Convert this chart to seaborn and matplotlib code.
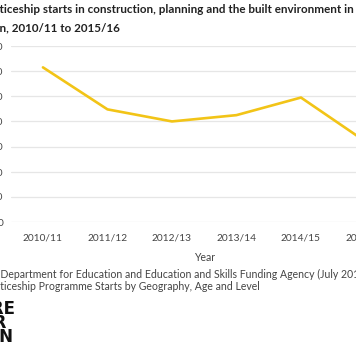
import matplotlib
matplotlib.use("Agg")
import matplotlib.pyplot as plt
import seaborn as sns
import pandas as pd
from matplotlib import font_manager

# apprenticeship starts
years = ["2010/11", "2011/12", "2012/13", "2013/14", "2014/15", "2015/16"]
starts = [3075, 2240, 2000, 2125, 2475, 1600]
y_ticks = [0, 500, 1000, 1500, 2000, 2500, 3000, 3500]

TITLE = ["Apprenticeship starts in construction, planning and the built environment in",
         "London, 2010/11 to 2015/16"]
SOURCE = ["Source: Department for Education and Education and Skills Funding Agency (July 2016)",
          "Apprenticeship Programme Starts by Geography, Age and Level"]

W, H = 356, 364
LINE_COLOR = "#f2c417"
TEXT = "#444444"

sns.set_theme(style="white")
plt.rcParams["font.family"] = ["Lato", "DejaVu Sans"]

df = pd.DataFrame({"year": years, "starts": starts})

fig = plt.figure(figsize=(W / 100, H / 100), dpi=100)
# axes run past both canvas edges, as in the cropped original
ax = fig.add_axes([10.7 / W, (H - 222) / H, 387 / W, 176 / H])
sns.lineplot(data=df, x="year", y="starts", color=LINE_COLOR, linewidth=1.9,
             sort=False, ax=ax)

ax.set_xlim(-0.5, len(years) - 0.5)
ax.set_ylim(0, 3500)
ax.set_yticks(y_ticks)
ax.set_yticklabels([f"{v:,}" for v in y_ticks])
ax.grid(axis="y", color="#e6e6e6", linewidth=0.9)
ax.grid(axis="x", visible=False)
for s in ax.spines.values():
    s.set_visible(False)
ax.tick_params(axis="y", length=0, pad=5.5, labelsize=7.3, labelcolor=TEXT)
ax.tick_params(axis="x", which="major", length=0, pad=8, labelsize=7.3, labelcolor=TEXT)
ax.set_xticks([i - 0.5 for i in range(len(years) + 1)], minor=True)
ax.tick_params(axis="x", which="minor", length=3, color="#e0e0e0", width=0.8)
ax.set_xlabel("Year", fontsize=7.6, color=TEXT, labelpad=7)
ax.set_ylabel("")

renderer = fig.canvas.get_renderer()


def text_width(s, **kw):
    t = fig.text(0, 0, s, **kw)
    w = t.get_window_extent(renderer).width
    t.remove()
    return w


# the original is cropped on the left, so each line starts partly off-canvas
title_kw = dict(fontsize=8.4, fontweight="bold", color="#222222")
fig.text(-text_width("Appren", **title_kw) / W, 1 - 13 / H, TITLE[0],
         va="baseline", **title_kw)
fig.text((-text_width("Londo", **title_kw) - 0.5) / W, 1 - 31 / H, TITLE[1],
         va="baseline", **title_kw)

src_kw = dict(fontsize=7.6, color=TEXT)
fig.text(-text_width("Source: ", **src_kw) / W, 1 - 277.5 / H, SOURCE[0],
         va="baseline", **src_kw)
fig.text(-text_width("Appren", **src_kw) / W, 1 - 290 / H, SOURCE[1],
         va="baseline", **src_kw)

names = [f.name for f in font_manager.fontManager.ttflist]
logo_font = "Liberation Sans Narrow" if "Liberation Sans Narrow" in names else "DejaVu Sans"
logo_kw = dict(fontsize=12, fontweight="bold", color="#111111", family=logo_font,
               ha="right", va="baseline")
for word, xr, yb in [("CENTRE", 15.5, 314), ("FOR", 6.5, 328), ("LONDON", 13.5, 342)]:
    fig.text(xr / W, 1 - yb / H, word, **logo_kw)

fig.savefig("out.png", dpi=100)
